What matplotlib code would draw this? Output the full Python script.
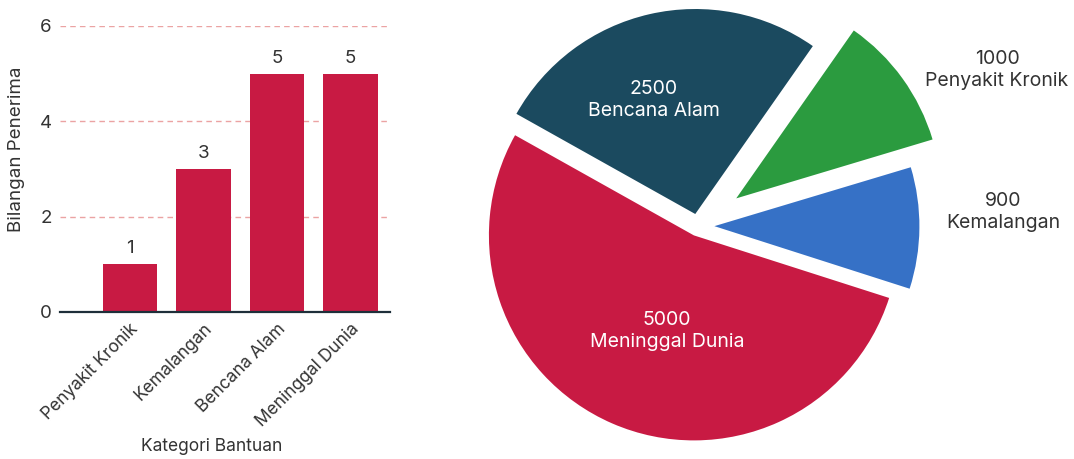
import numpy as np
import matplotlib
matplotlib.use("Agg")
import matplotlib.pyplot as plt
from matplotlib.transforms import ScaledTranslation

plt.rcParams['font.family'] = ['Inter', 'DejaVu Sans']

# ---- data ----
bar_categories = ['Penyakit Kronik', 'Kemalangan', 'Bencana Alam', 'Meninggal Dunia']
bar_values = [1, 3, 5, 5]
y_ticks = [0, 2, 4, 6]

pie_labels = ['Penyakit Kronik', 'Kemalangan', 'Meninggal Dunia', 'Bencana Alam']
pie_values = [1000, 900, 5000, 2500]

# ---- styles ----
RED = '#c81a43'
pie_colors = ['#2b9b3f', '#3671c6', '#c81a43', '#1b4a5f']
pie_explode = [0.23, 0.08, 0.05, 0.06]
label_colors = ['#333333', '#333333', 'white', 'white']
label_polar = [(1.645, 27.5), (1.49, 2.6), (0.534, -106.4), (0.651, 109.3)]
TXT = '#333333'

W, H = 1074, 459
fig = plt.figure(figsize=(W / 100, H / 100), dpi=100)

# ---- bar chart ----
ax = fig.add_axes([60 / W, 1 - 312 / H, 330 / W, (312 - 26) / H])
x = np.arange(len(bar_categories))
bars = ax.bar(x, bar_values, width=0.74, color=RED, zorder=3)
ax.bar_label(bars, labels=[str(v) for v in bar_values], padding=5,
             fontsize=13.5, color=TXT)
ax.set_xlim(-0.95, 3.54)
ax.set_ylim(0, 6)
ax.set_yticks(y_ticks)
ax.set_yticklabels([str(t) for t in y_ticks], fontsize=13.5, color=TXT)
off = ScaledTranslation(0, -4 / 100, fig.dpi_scale_trans)
for lbl in ax.get_yticklabels():
    lbl.set_transform(lbl.get_transform() + off)
ax.set_xticks(x)
ax.set_xticklabels(bar_categories, rotation=45, ha='right', va='top',
                   rotation_mode='anchor', fontsize=12.5, color=TXT)
ax.tick_params(axis='both', length=0, pad=6)
for t in y_ticks[1:]:
    ax.axhline(t, color='#eba3a3', linestyle=(0, (4, 3)), linewidth=1, zorder=1)
for s in ['top', 'right', 'left']:
    ax.spines[s].set_visible(False)
ax.spines['bottom'].set_color('#1e2f3a')
ax.spines['bottom'].set_linewidth(1.6)
ax.spines['bottom'].set_zorder(4)
ax.set_ylabel('Bilangan Penerima', fontsize=13.5, color=TXT)
ax.yaxis.set_label_coords(-0.106, 0.57)
ax.set_xlabel('Kategori Bantuan', fontsize=12.5, color=TXT)
ax.xaxis.set_label_coords(0.46, -0.44)

# ---- pie chart ----
R = 205.0
cx, cy = 698.0, 226.0
axp = fig.add_axes([(cx - 300) / W, 0, 600 / W, 1])
wedges, _ = axp.pie(pie_values, colors=pie_colors, explode=pie_explode,
                    startangle=55, counterclock=False, radius=1.0,
                    wedgeprops=dict(linewidth=0))
axp.set_xlim(-300 / R, 300 / R)
axp.set_ylim(-(H - cy) / R, cy / R)
axp.set_aspect('auto')
axp.axis('off')
for lab, val, col, (r, ang) in zip(pie_labels, pie_values, label_colors, label_polar):
    a = np.deg2rad(ang)
    axp.text(r * np.cos(a), r * np.sin(a), f'{val}\n{lab}', ha='center',
             va='center', fontsize=14, color=col, linespacing=1.3,
             clip_on=False)

fig.savefig('out.png', dpi=100)
